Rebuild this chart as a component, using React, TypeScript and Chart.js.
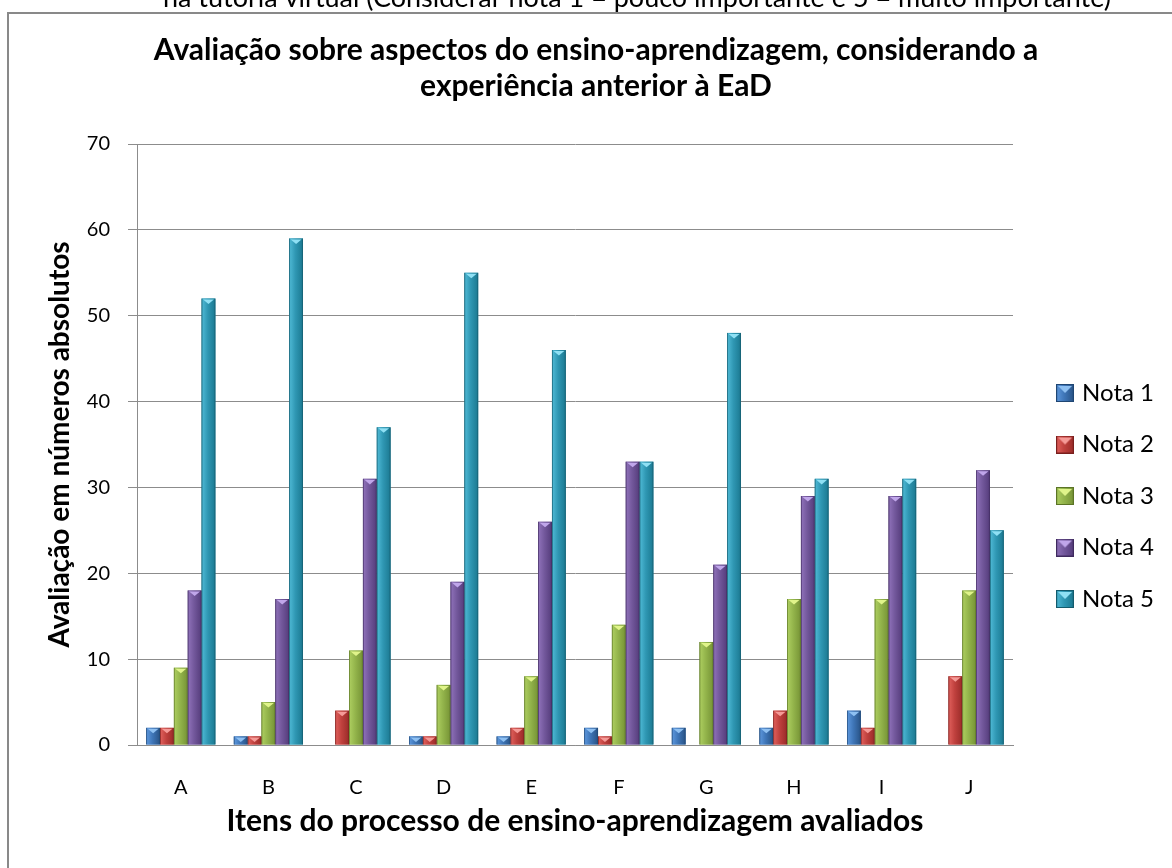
import React, { useEffect, useRef } from "react";
import { Chart, registerables } from "chart.js";

Chart.register(...registerables);

// ---- data ----
const categories = ["A", "B", "C", "D", "E", "F", "G", "H", "I", "J"];
const seriesNames = ["Nota 1", "Nota 2", "Nota 3", "Nota 4", "Nota 5"];
const nota1 = [2, 1, 0, 1, 1, 2, 2, 2, 4, 0];
const nota2 = [2, 1, 4, 1, 2, 1, 0, 4, 2, 8];
const nota3 = [9, 5, 11, 7, 8, 14, 12, 17, 17, 18];
const nota4 = [18, 17, 31, 19, 26, 33, 21, 29, 29, 32];
const nota5 = [52, 59, 37, 55, 46, 33, 48, 31, 31, 25];
const yMin = 0;
const yMax = 70;
const yStep = 10;

// ---- texts ----
const chartTitle = [
  "Avaliação sobre aspectos do ensino-aprendizagem, considerando a",
  "experiência anterior à EaD",
];
const caption =
  "na tutoria virtual (Considerar nota 1 = pouco importante e 5 = muito importante)";
const xTitle = "Itens do processo de ensino-aprendizagem avaliados";
const yTitle = "Avaliação em números absolutos";

// ---- look ----
const FONT = "Lato";
const GRID = "#8c8c8c";
const palette = [
  { edge: "#1f4673", dark: "#2d5a90", base: "#3f76b8", light: "#5791d6", cap: "#8ec0f2" },
  { edge: "#7a1f1d", dark: "#a2302d", base: "#c0413e", light: "#da5a56", cap: "#f59a97" },
  { edge: "#5b7426", dark: "#7c9a3a", base: "#93b44b", light: "#a8c95c", cap: "#e0f48a" },
  { edge: "#3f2a5e", dark: "#5b4282", base: "#73589c", light: "#8a6db4", cap: "#c0a6ea" },
  { edge: "#135a6c", dark: "#1f7f98", base: "#2f97b3", light: "#49b3cf", cap: "#8fe0f4" },
];
const seriesData = [nota1, nota2, nota3, nota4, nota5];

// ---- page layout (px) ----
const CANVAS_W = 1124;
const CANVAS_H = 992;
const PLOT_LEFT = 137;
const PLOT_RIGHT = 1013;
const PLOT_TOP = 144;
const PLOT_BOTTOM = 745;
const TITLE_CX = 596;
const TITLE_SIZE = 30;
const TITLE_LINE = 36;
const TITLE_MID1 = 50.4;
const CAPTION_CX = 637;
const CAPTION_BASELINE = 7;
const CAPTION_SIZE = 27;
const LEGEND_SLOT_X = 1060;
const LEGEND_FONT = 24;
const LEGEND_ROW = 51.5;
const LEGEND_POINT_W = 10;
const LEGEND_EXTRA_W = 10; // Chart.js adds 10px to a vertical legend's width
const Y_TITLE_CX = 60;
const X_TITLE_SIZE = 30;
const X_TITLE_MID = 821.4;

function makeGradient(ctx: CanvasRenderingContext2D, left: number, width: number, p: any) {
  const g = ctx.createLinearGradient(left, 0, left + width, 0);
  g.addColorStop(0, p.edge);
  g.addColorStop(0.1, p.light);
  g.addColorStop(0.45, p.base);
  g.addColorStop(0.88, p.dark);
  g.addColorStop(1, p.edge);
  return g;
}

function makeLegendIcon(p: any): HTMLCanvasElement {
  const c = document.createElement("canvas");
  c.width = 18;
  c.height = 18;
  const ctx = c.getContext("2d")!;
  ctx.fillStyle = makeGradient(ctx, 0, 18, p);
  ctx.fillRect(0, 0, 18, 18);
  ctx.fillStyle = p.cap;
  ctx.beginPath();
  ctx.moveTo(2, 2);
  ctx.lineTo(16, 2);
  ctx.lineTo(9, 9);
  ctx.closePath();
  ctx.fill();
  ctx.strokeStyle = p.edge;
  ctx.lineWidth = 1;
  ctx.strokeRect(0.5, 0.5, 17, 17);
  return c;
}

// Paints each bar with a horizontal shading and a light bevel cap on top.
const bevelBars = {
  id: "bevelBars",
  afterDatasetsDraw(chart: any) {
    const ctx: CanvasRenderingContext2D = chart.ctx;
    ctx.save();
    chart.data.datasets.forEach((_ds: any, di: number) => {
      const meta = chart.getDatasetMeta(di);
      if (meta.hidden) return;
      const p = palette[di];
      meta.data.forEach((el: any) => {
        const { x, y, base, width } = el.getProps(["x", "y", "base", "width"], true);
        const h = base - y;
        if (h <= 0.5) return;
        const left = x - width / 2;
        ctx.fillStyle = makeGradient(ctx, left, width, p);
        ctx.fillRect(left, y, width, h);
        const capH = Math.min(width * 0.4, h - 1);
        ctx.fillStyle = p.cap;
        ctx.beginPath();
        ctx.moveTo(left + 1.5, y + 1);
        ctx.lineTo(left + width - 1.5, y + 1);
        ctx.lineTo(x, y + capH);
        ctx.closePath();
        ctx.fill();
      });
    });
    ctx.restore();
  },
};

export default function App() {
  const ref = useRef<HTMLCanvasElement>(null);

  useEffect(() => {
    const canvas = ref.current;
    if (!canvas) return;

    // width of the legend items decides where the canvas sits on the page
    const mctx = document.createElement("canvas").getContext("2d")!;
    mctx.font = `${LEGEND_FONT}px ${FONT}`;
    const textW = Math.max(...seriesNames.map((n) => mctx.measureText(n).width));
    const itemW = LEGEND_POINT_W + LEGEND_FONT / 2 + textW;
    const exactL = LEGEND_SLOT_X + itemW + LEGEND_EXTRA_W - CANVAS_W;
    const L = Math.round(exactL);
    const padL = Math.round(2 * (TITLE_CX - L) - CANVAS_W);
    const yW = PLOT_LEFT - L - padL;
    const legendPad = LEGEND_ROW - LEGEND_FONT;
    const y2W = LEGEND_SLOT_X - legendPad - PLOT_RIGHT - (exactL - L);
    const yTitleOff = Math.max(4, Y_TITLE_CX - (L + padL));
    canvas.style.left = `${L}px`;

    const icons = palette.map(makeLegendIcon);

    const captionPlugin = {
      id: "captionText",
      beforeDraw(chart: any) {
        const ctx: CanvasRenderingContext2D = chart.ctx;
        ctx.save();
        ctx.font = `${CAPTION_SIZE}px ${FONT}`;
        ctx.fillStyle = "#000";
        ctx.textAlign = "center";
        ctx.textBaseline = "alphabetic";
        ctx.fillText(caption, CAPTION_CX - L, CAPTION_BASELINE);
        ctx.restore();
      },
    };

    Chart.defaults.font.family = FONT;
    Chart.defaults.color = "#000";

    const titlePadTop = TITLE_MID1 - TITLE_LINE / 2;

    const chart = new Chart(canvas, {
      type: "bar",
      data: {
        labels: categories,
        datasets: seriesNames.map((name, i) => ({
          label: name,
          data: seriesData[i],
          backgroundColor: palette[i].base,
          borderWidth: 0,
          categoryPercentage: 0.79,
          barPercentage: 1.0,
        })),
      },
      options: {
        responsive: false,
        animation: false,
        devicePixelRatio: 1,
        layout: { padding: { left: padL, right: 0, top: 0, bottom: 0 } },
        plugins: {
          tooltip: { enabled: false },
          title: {
            display: true,
            text: chartTitle,
            color: "#000",
            font: { family: FONT, size: TITLE_SIZE, weight: "bold", lineHeight: `${TITLE_LINE}px` },
            padding: { top: titlePadTop, bottom: PLOT_TOP - titlePadTop - 2 * TITLE_LINE },
          },
          legend: {
            display: true,
            position: "right",
            labels: {
              usePointStyle: true,
              pointStyleWidth: LEGEND_POINT_W,
              padding: legendPad,
              color: "#000",
              font: { family: FONT, size: LEGEND_FONT },
              generateLabels: (c: any) => {
                const items = (Chart.defaults.plugins.legend.labels as any).generateLabels(c);
                items.forEach((it: any) => {
                  it.pointStyle = icons[it.datasetIndex];
                });
                return items;
              },
            },
          },
        },
        scales: {
          x: {
            grid: { display: false },
            border: { display: true, color: GRID, width: 1 },
            ticks: { color: "#000", font: { size: 20 }, padding: 23 },
            title: {
              display: true,
              text: xTitle,
              color: "#000",
              font: { size: X_TITLE_SIZE, weight: "bold", lineHeight: `${X_TITLE_SIZE}px` },
              padding: { top: 0, bottom: CANVAS_H - X_TITLE_MID - X_TITLE_SIZE / 2 },
            },
            afterFit: (s: any) => {
              s.height = CANVAS_H - PLOT_BOTTOM;
            },
          },
          y: {
            min: yMin,
            max: yMax,
            ticks: { stepSize: yStep, color: "#000", font: { size: 20 }, padding: 18 },
            grid: { color: GRID, tickColor: GRID, tickLength: 9, drawTicks: true },
            border: { display: true, color: GRID },
            title: {
              display: true,
              text: yTitle,
              color: "#000",
              font: { size: 28, weight: "bold", lineHeight: `${2 * yTitleOff}px` },
              padding: 0,
            },
            afterFit: (s: any) => {
              s.width = yW;
            },
          },
          y2: {
            type: "linear",
            position: "right",
            display: true,
            grid: { display: false, drawTicks: false },
            border: { display: false },
            ticks: { display: false },
            afterFit: (s: any) => {
              s.width = y2W;
            },
          },
        },
      } as any,
      plugins: [captionPlugin, bevelBars],
    });

    return () => chart.destroy();
  }, []);

  return (
    <div
      style={{
        position: "fixed",
        left: 0,
        top: 0,
        width: 1172,
        height: 868,
        overflow: "hidden",
        background: "#fff",
      }}
    >
      <div
        style={{
          position: "absolute",
          left: 7,
          top: 12,
          width: 1400,
          height: 1200,
          borderLeft: "2px solid #898989",
          borderTop: "2px solid #898989",
        }}
      />
      <canvas
        ref={ref}
        width={CANVAS_W}
        height={CANVAS_H}
        style={{ position: "absolute", top: 0, left: 0, width: CANVAS_W, height: CANVAS_H }}
      />
    </div>
  );
}
